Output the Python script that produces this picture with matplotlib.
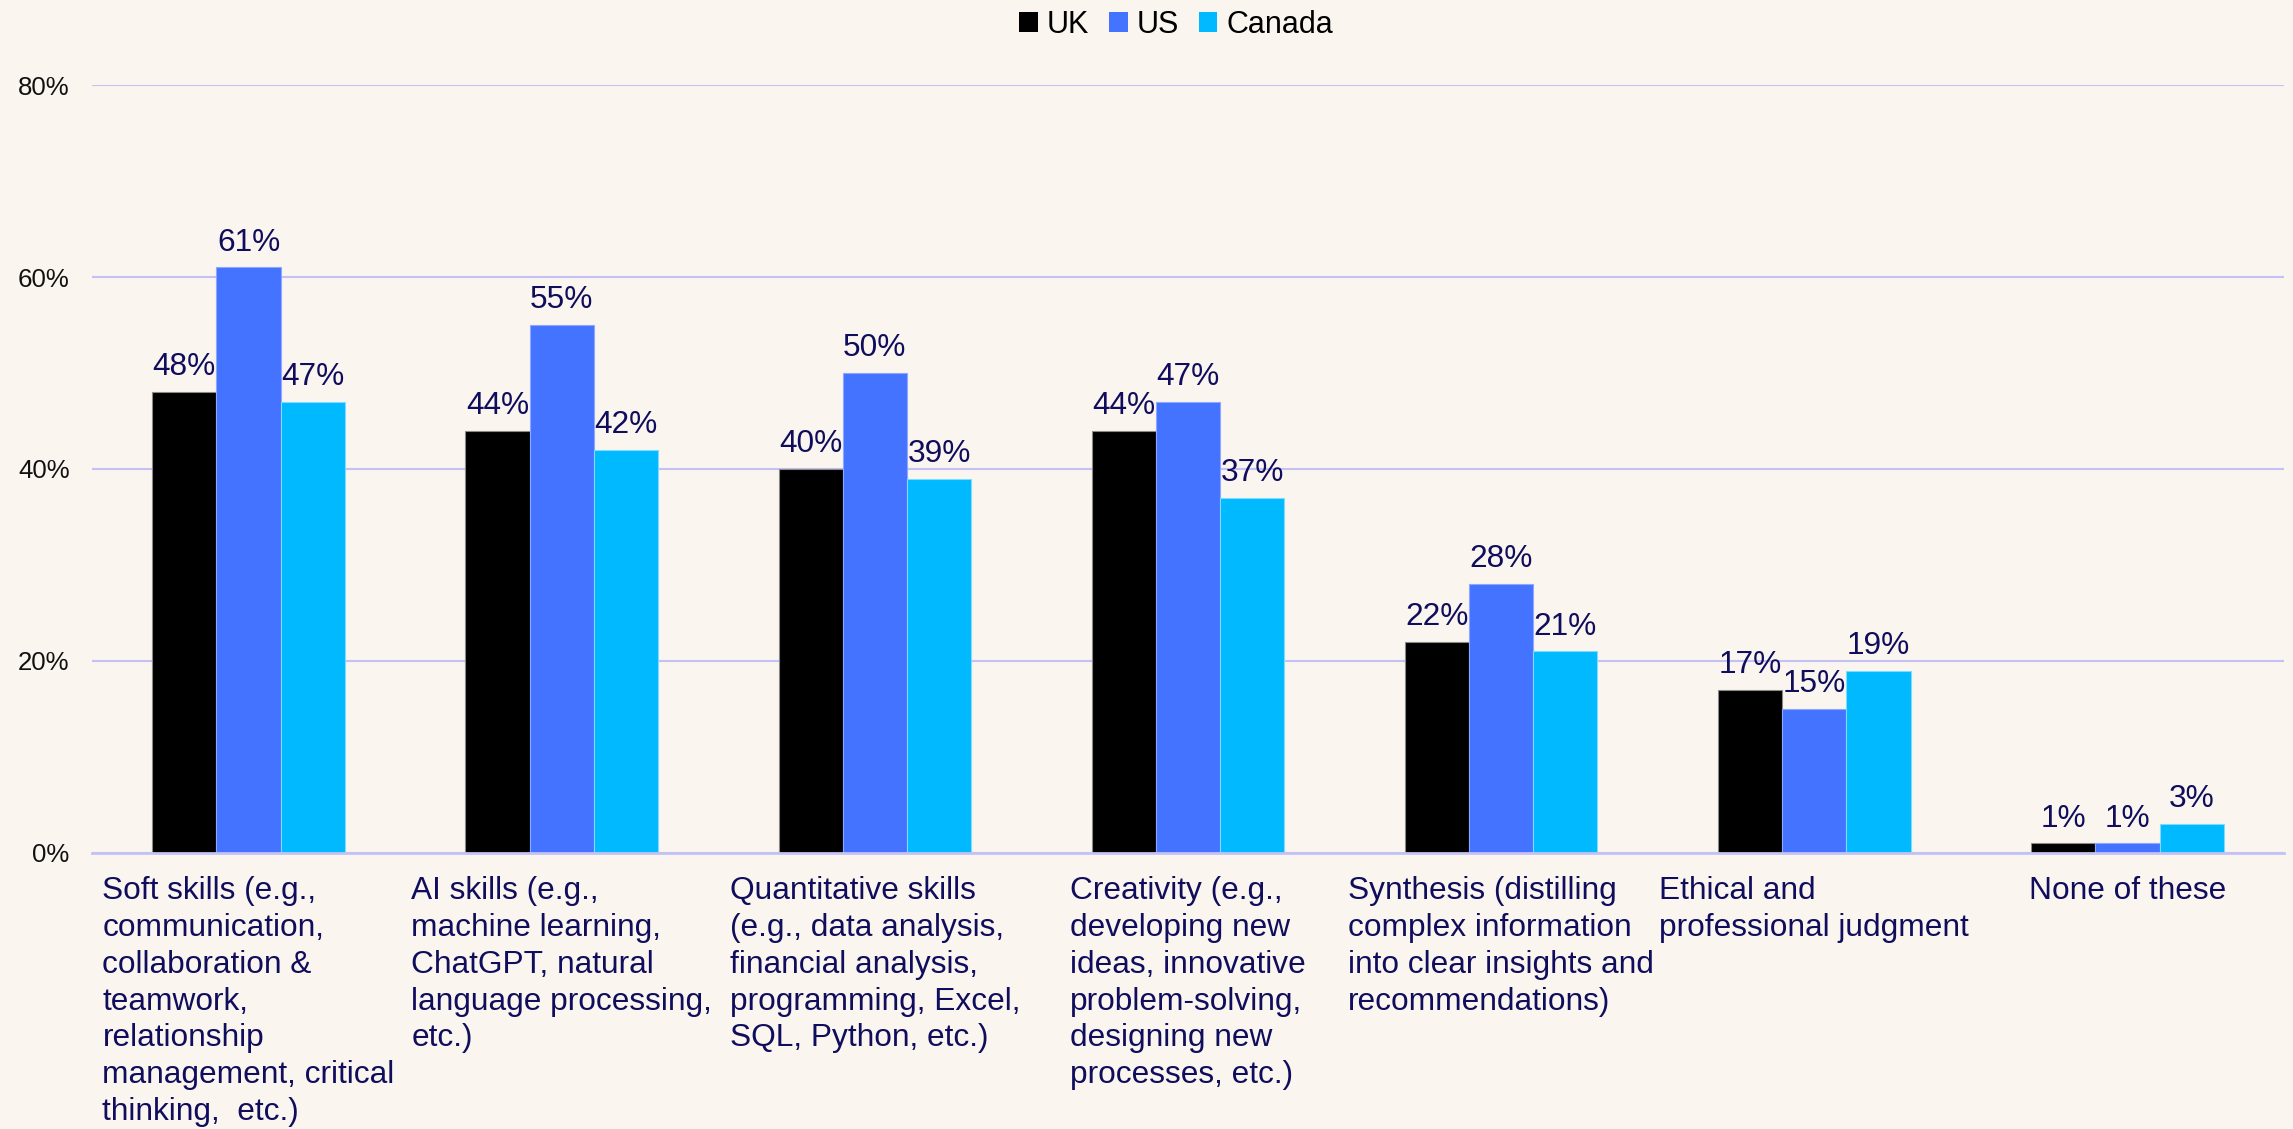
import matplotlib
matplotlib.use("Agg")
import matplotlib.pyplot as plt
import numpy as np
from matplotlib.patches import Patch

categories = [
    "Soft skills (e.g.,\ncommunication,\ncollaboration &\nteamwork,\nrelationship\nmanagement, critical\nthinking,  etc.)",
    "AI skills (e.g.,\nmachine learning,\nChatGPT, natural\nlanguage processing,\netc.)",
    "Quantitative skills\n(e.g., data analysis,\nfinancial analysis,\nprogramming, Excel,\nSQL, Python, etc.)",
    "Creativity (e.g.,\ndeveloping new\nideas, innovative\nproblem-solving,\ndesigning new\nprocesses, etc.)",
    "Synthesis (distilling\ncomplex information\ninto clear insights and\nrecommendations)",
    "Ethical and\nprofessional judgment",
    "None of these",
]
series_names = ["UK", "US", "Canada"]
uk = [48, 44, 40, 44, 22, 17, 1]
us = [61, 55, 50, 47, 28, 15, 1]
canada = [47, 42, 39, 37, 21, 19, 3]
yticks = [0, 20, 40, 60, 80]

colors = ["#000000", "#4473FF", "#00B9FF"]
edges = ["#8a8a8a", "#8fa8ff", "#7fdcff"]
bg = "#FAF5EF"
navy = "#0F0D5C"

plt.rcParams["font.family"] = ["Liberation Sans", "DejaVu Sans"]

fig = plt.figure(figsize=(22.93, 11.29), dpi=100, facecolor=bg)
ax = fig.add_axes([0.0401, 0.2445, 0.956, 0.6802])
ax.set_facecolor(bg)

x = np.arange(len(categories))
w = 0.205
for i, (vals, name) in enumerate(zip([uk, us, canada], series_names)):
    ax.bar(x + (i - 1) * w, vals, width=w, color=colors[i],
           edgecolor=edges[i], linewidth=0.8, zorder=3, label=name)
    for xi, v in zip(x + (i - 1) * w, vals):
        ax.annotate(f"{v}%", (xi, v), xytext=(0, 7), textcoords="offset points",
                    ha="center", va="bottom", fontsize=22.8, color=navy, zorder=4)

ax.set_xlim(-0.5, len(categories) - 0.5)
ax.set_ylim(0, 80)
ax.set_yticks(yticks)
ax.set_yticklabels([f"{t}%" for t in yticks], fontsize=18.6, color="#111111")
ax.yaxis.grid(True, color="#C4C2F4", linewidth=1.5, zorder=0)
ax.set_axisbelow(True)
for s in ["top", "right", "left"]:
    ax.spines[s].set_visible(False)
ax.spines["bottom"].set_color("#C4C2F4")
ax.spines["bottom"].set_linewidth(2)
ax.spines["bottom"].set_zorder(5)
ax.tick_params(axis="y", length=0, pad=16)
ax.tick_params(axis="x", length=0, pad=16.5)
ax.set_xticks(x)
ax.set_xticklabels(categories, fontsize=22.8, color=navy, ha="center",
                   multialignment="left", linespacing=1.3, va="top")

handles = [Patch(facecolor=c, edgecolor="none") for c in colors]
fig.legend(handles, series_names, loc="center", bbox_to_anchor=(0.513, 0.978),
           ncol=3, frameon=False, fontsize=22, handlelength=0.6, handleheight=0.6,
           handletextpad=0.3, columnspacing=0.65)

fig.savefig("out.png", dpi=100, facecolor=bg)
